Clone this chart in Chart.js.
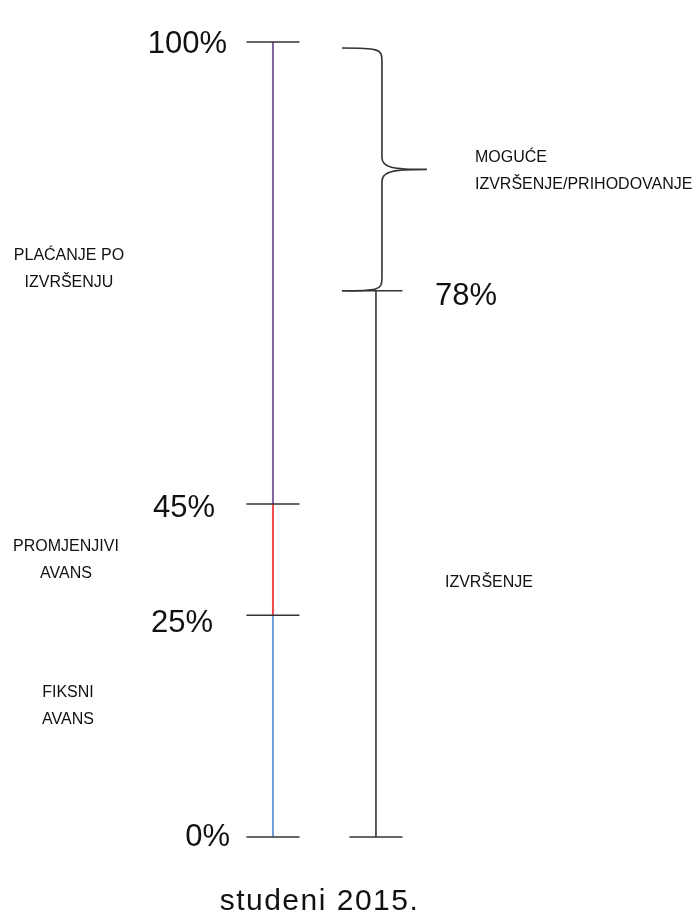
<!DOCTYPE html>
<html>
<head>
<meta charset="utf-8">
<title>Avans i izvršenje – studeni 2015.</title>
<script src="https://cdn.jsdelivr.net/npm/chart.js@4.4.1/dist/chart.umd.min.js"></script>
<style>
  html, body { margin: 0; padding: 0; background: #fff; }
  #wrap { width: 700px; height: 913px; }
</style>
</head>
<body>
<div id="wrap"><canvas id="chart" width="700" height="913"></canvas></div>
<script>
/* ================= data ================= */
const periodLabel = 'studeni 2015.';

// left column – payment structure, levels in % (bottom → top)
const paymentLevels   = [0, 25, 45, 100];
const paymentSegments = [['FIKSNI', 'AVANS'], ['PROMJENJIVI', 'AVANS'], ['PLAĆANJE PO', 'IZVRŠENJU']];

// right column – execution
const executionLevels   = [0, 78];
const executionSegments = [['IZVRŠENJE']];
const possibleRange     = [78, 100];
const possibleLabel     = ['MOGUĆE', 'IZVRŠENJE/PRIHODOVANJE'];

/* ================= style ================= */
const FONT          = "'Liberation Sans', Arial, sans-serif";
const TEXT_COLOR    = '#111111';
const TICK_COLOR    = '#333333';
const paymentColors = ['#6FA0D8', '#F2474B', '#8064A2'];

// the original is a hand-drawn sketch, not to scale: value → share of the axis height
const axisStops = [[0, 0], [25, 0.279], [45, 0.419], [78, 0.687], [100, 1]];

// label nudges (px), relative to column / tick pixel
const paymentPctDx = [-43, -60, -58, -46];
const paymentPctDy = [9, 17, 13, 11];
const execPctDx    = [0, 59];
const execPctDy    = [0, 14];
const paymentSegDx = [-205, -207, -204];
const paymentSegDy = [-29, -9, -13];
const execSegDx    = [69];
const execSegDy    = [23];
const LINE_PITCH   = 27;

/* ------------------------------------------------------------------
   SketchScale — linear scale whose value → pixel mapping is piecewise,
   following axisStops (keeps the uneven spacing of the sketch)
   ------------------------------------------------------------------ */
class SketchScale extends Chart.LinearScale {
  _frac(v) {
    const s = this.options.stops;
    for (let i = 1; i < s.length; i++) {
      if (v <= s[i][0]) {
        const t = (v - s[i - 1][0]) / (s[i][0] - s[i - 1][0]);
        return s[i - 1][1] + t * (s[i][1] - s[i - 1][1]);
      }
    }
    return 1;
  }
  getPixelForValue(v) {
    return this.getPixelForDecimal(this._frac(v));
  }
  getValueForPixel(p) {
    const d = this.getDecimalForPixel(p);
    const s = this.options.stops;
    for (let i = 1; i < s.length; i++) {
      if (d <= s[i][1]) {
        const t = (d - s[i - 1][1]) / (s[i][1] - s[i - 1][1]);
        return s[i - 1][0] + t * (s[i][0] - s[i - 1][0]);
      }
    }
    return s[s.length - 1][0];
  }
}
SketchScale.id = 'sketch';
SketchScale.defaults = {};
Chart.register(SketchScale);

/* ------------------------------------------------------------------
   sketchAnnotations — % labels, segment captions, brace, period label
   ------------------------------------------------------------------ */
const sketchAnnotations = {
  id: 'sketchAnnotations',
  afterDatasetsDraw(chart) {
    const { ctx, scales: { x, y } } = chart;
    const c1 = x.getPixelForValue(1);
    const c2 = x.getPixelForValue(2);
    ctx.save();
    ctx.fillStyle = TEXT_COLOR;
    ctx.textBaseline = 'alphabetic';

    // ── percent labels ───────────────────────────────────────
    ctx.font = `31px ${FONT}`;
    ctx.textAlign = 'right';
    paymentLevels.forEach((v, i) => {
      ctx.fillText(v + '%', c1 + paymentPctDx[i], y.getPixelForValue(v) + paymentPctDy[i]);
    });
    ctx.textAlign = 'left';
    executionLevels.forEach((v, i) => {
      if (v === 0) return; // bottom of the right column carries no label
      ctx.fillText(v + '%', c2 + execPctDx[i], y.getPixelForValue(v) + execPctDy[i]);
    });

    // ── segment captions ─────────────────────────────────────
    ctx.font = `16px ${FONT}`;
    const caption = (lines, cx, baseY, align) => {
      ctx.textAlign = align;
      lines.forEach((t, k) => ctx.fillText(t, cx, baseY + k * LINE_PITCH));
    };
    const mid = (a, b) => (y.getPixelForValue(a) + y.getPixelForValue(b)) / 2;

    paymentSegments.forEach((lines, i) => {
      const m = mid(paymentLevels[i], paymentLevels[i + 1]);
      caption(lines, c1 + paymentSegDx[i], m + paymentSegDy[i], 'center');
    });
    executionSegments.forEach((lines, i) => {
      const m = mid(executionLevels[i], executionLevels[i + 1]);
      caption(lines, c2 + execSegDx[i], m + execSegDy[i], 'left');
    });

    // ── brace over the "possible" range ──────────────────────
    const top = y.getPixelForValue(possibleRange[1]) + 6;
    const bot = y.getPixelForValue(possibleRange[0]);
    const bm  = (top + bot) / 2;
    const xl = c2 - 34, xv = c2 + 6, xt = c2 + 51;
    ctx.strokeStyle = TICK_COLOR;
    ctx.lineWidth = 1.6;
    ctx.beginPath();
    ctx.moveTo(xl, top);
    ctx.bezierCurveTo(xv - 4, top, xv, top + 1, xv, top + 12);
    ctx.lineTo(xv, bm - 12);
    ctx.bezierCurveTo(xv, bm - 2, xv + 10, bm, xt, bm);
    ctx.moveTo(xt, bm);
    ctx.bezierCurveTo(xv + 10, bm, xv, bm + 2, xv, bm + 12);
    ctx.lineTo(xv, bot - 12);
    ctx.bezierCurveTo(xv, bot - 1, xv - 4, bot, xl, bot);
    ctx.stroke();

    caption(possibleLabel, c2 + 99, bm - 7, 'left');

    // ── period label under the columns ───────────────────────
    ctx.font = `30px ${FONT}`;
    ctx.textAlign = 'center';
    if ('letterSpacing' in ctx) ctx.letterSpacing = '1.5px';
    ctx.fillText(periodLabel, (c1 + c2) / 2 - 5, chart.height - 3);
    ctx.restore();
  }
};

/* ================= datasets ================= */
const column = (xPos, levels) => levels.map(v => ({ x: xPos, y: v }));

const datasets = [
  {
    label: 'plaćanje',
    data: column(1, paymentLevels),
    borderWidth: 2,
    segment: { borderColor: (c) => paymentColors[c.p0DataIndex] },
    borderColor: paymentColors[0],
    pointStyle: 'line',
    pointRadius: 26.5,
    pointHoverRadius: 26.5,
    pointBorderColor: TICK_COLOR,
    pointBorderWidth: 1.5,
    clip: false,
  },
  {
    label: 'izvršenje',
    data: column(2, executionLevels),
    borderWidth: 1.6,
    borderColor: TICK_COLOR,
    pointStyle: 'line',
    pointRadius: 26.5,
    pointHoverRadius: 26.5,
    pointBorderColor: TICK_COLOR,
    pointBorderWidth: 1.5,
    clip: false,
  },
];

new Chart(document.getElementById('chart'), {
  type: 'line',
  data: { datasets },
  options: {
    responsive: false,
    animation: false,
    events: [],
    layout: { autoPadding: false, padding: { top: 42, bottom: 76, left: 0, right: 0 } },
    plugins: { legend: { display: false }, tooltip: { enabled: false } },
    scales: {
      x: { type: 'linear', min: -1.65, max: 5.146, display: false },
      y: { type: 'sketch', min: 0, max: 100, stops: axisStops, display: false },
    },
  },
  plugins: [sketchAnnotations],
});
</script>
</body>
</html>
